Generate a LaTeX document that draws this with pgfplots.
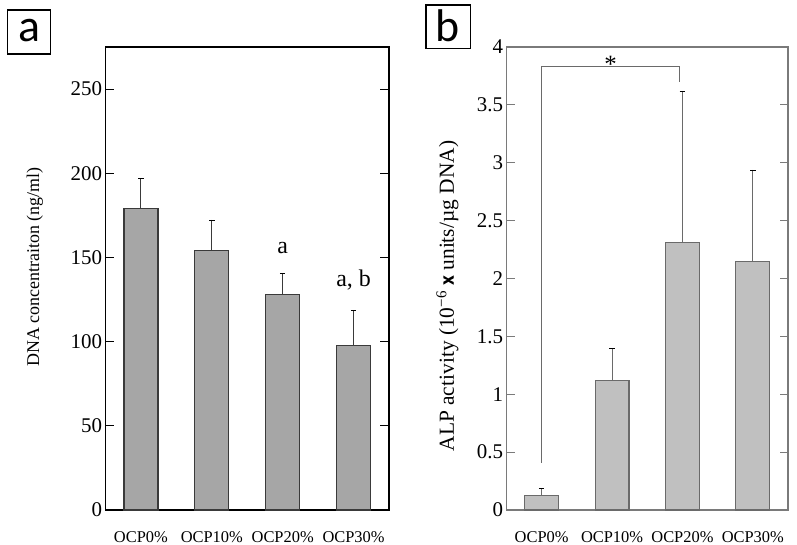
\documentclass[border=0pt]{standalone}
\usepackage{pgfplots}
\pgfplotsset{compat=1.18}
\usepackage{fontspec}
\setmainfont{Liberation Serif}
\newfontfamily\carlito{Carlito}

\definecolor{barA}{HTML}{A6A6A6}
\definecolor{edgeA}{HTML}{3A3A3A}
\definecolor{barB}{HTML}{C0C0C0}
\definecolor{edgeB}{HTML}{6A6A6A}
\definecolor{axB}{HTML}{7A7A7A}

\pgfplotsset{common/.style={
  scale only axis, height=463bp,
  xmin=-0.5, xmax=3.5,
  xtick={0,1,2,3}, xticklabels={OCP0\%,OCP10\%,OCP20\%,OCP30\%},
  x tick style={draw=none},
  ytick pos=both, tick align=inside, major tick length=8.5bp,
  /pgf/number format/assume math mode=true,
  tick label style={font=\fontsize{21}{21}\selectfont},
  xticklabel style={font=\fontsize{16.5}{16.5}\selectfont, yshift=-10bp},
  ylabel style={font=\fontsize{18}{18}\selectfont, anchor=center},
  ybar, bar width=0.48, clip=false,
  error bars/y dir=plus, error bars/y explicit,
  error bars/error mark=-,
  error bars/error mark options={rotate=90, mark size=2.8bp, solid},
}}

\begin{document}
\begin{tikzpicture}
\path[use as bounding box] (0,0) rectangle (797bp,-545bp);

% panel labels
\draw[line width=1.2bp] (7.5bp,-10bp) rectangle (50.5bp,-54bp);
\node[font=\carlito\fontsize{46}{46}\selectfont] at (29bp,-31bp) {a};
\draw[line width=1.2bp] (426bp,-5bp) rectangle (470.5bp,-48.5bp);
\node[font=\carlito\fontsize{46}{46}\selectfont] at (448bp,-26bp) {b};

% ---- panel a
\begin{axis}[common,
  at={(105.5bp,-510bp)}, anchor=south west, width=283.5bp,
  ymin=0, ymax=275, ytick={0,50,100,150,200,250},
  axis line style={black, line width=1.1bp},
  y tick style={black, line width=1.1bp},
  ylabel={DNA concentraiton (ng/ml)},
  ylabel style={at={(axis description cs:-0.249,0.525)}},
]
\addplot[fill=barA, draw=edgeA, line width=1.2bp,
  error bars/error bar style={draw=edgeA, line width=1.1bp}]
  table[x=x, y=y, y error plus=e] {
x y e
0 179.3 17.7
1 154.0 18.4
2 128.2 12.5
3 97.8 20.8
};
\node[font=\fontsize{24}{24}\selectfont] at (axis cs:2,155.8) {a};
\node[font=\fontsize{24}{24}\selectfont] at (axis cs:3,136.3) {a, b};
\end{axis}

% ---- panel b
\begin{axis}[common,
  at={(506.5bp,-510bp)}, anchor=south west, width=281.5bp,
  ymin=0, ymax=4, ytick={0,0.5,1,1.5,2,2.5,3,3.5,4},
  axis line style={axB, line width=1.1bp},
  y tick style={axB, line width=1.1bp},
  ylabel={ALP activity (10\textsuperscript{\char"2212 6} {\carlito\bfseries x} units/µg DNA)},
  ylabel style={font=\fontsize{21.5}{21.5}\selectfont, at={(axis description cs:-0.21,0.462)}},
]
\addplot[fill=barB, draw=edgeB, line width=1.1bp,
  error bars/error bar style={draw=edgeB, line width=1bp}]
  table[x=x, y=y, y error plus=e] {
x y e
0 0.126 0.061
1 1.118 0.276
2 2.310 1.305
3 2.144 0.796
};
\draw[edgeB, line width=0.9bp] (axis cs:0,0.41) -- (axis cs:0,3.836) -- (axis cs:1.96,3.836) -- (axis cs:1.96,3.698);
\node[font=\fontsize{25}{25}\selectfont, anchor=base] at (axis cs:0.98,3.778) {*};
\end{axis}
\end{tikzpicture}
\end{document}
